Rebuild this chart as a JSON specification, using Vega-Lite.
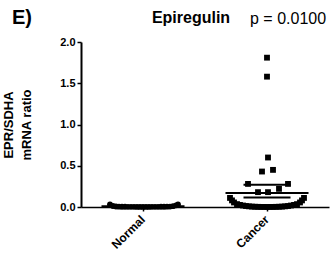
{
  "$schema": "https://vega.github.io/schema/vega-lite/v6.json",
  "width": 248,
  "height": 165,
  "autosize": "none",
  "padding": {"left": 81, "top": 42, "right": 2, "bottom": 49},
  "background": "white",
  "config": {
    "view": {"stroke": null},
    "font": "Liberation Sans",
    "axis": {"grid": false, "domainColor": "black", "tickColor": "black", "labelColor": "black", "titleColor": "black", "labelFont": "Liberation Sans", "titleFont": "Liberation Sans"}
  },
  "datasets": {
    "pts": [
      {"grp": "Normal", "off": -33, "v": 0.03},
      {"grp": "Normal", "off": -30, "v": 0.012},
      {"grp": "Normal", "off": -27, "v": 0.006},
      {"grp": "Normal", "off": -24, "v": 0.004},
      {"grp": "Normal", "off": -21, "v": 0.003},
      {"grp": "Normal", "off": -18, "v": 0.003},
      {"grp": "Normal", "off": -15, "v": 0.002},
      {"grp": "Normal", "off": -12, "v": 0.002},
      {"grp": "Normal", "off": -9, "v": 0.002},
      {"grp": "Normal", "off": -6, "v": 0.001},
      {"grp": "Normal", "off": -3, "v": 0.001},
      {"grp": "Normal", "off": 0, "v": 0.001},
      {"grp": "Normal", "off": 3, "v": 0.001},
      {"grp": "Normal", "off": 6, "v": 0.001},
      {"grp": "Normal", "off": 9, "v": 0.002},
      {"grp": "Normal", "off": 12, "v": 0.002},
      {"grp": "Normal", "off": 15, "v": 0.002},
      {"grp": "Normal", "off": 18, "v": 0.003},
      {"grp": "Normal", "off": 21, "v": 0.003},
      {"grp": "Normal", "off": 24, "v": 0.004},
      {"grp": "Normal", "off": 27, "v": 0.005},
      {"grp": "Normal", "off": 30, "v": 0.01},
      {"grp": "Normal", "off": 33, "v": 0.02},
      {"grp": "Normal", "off": 35, "v": 0.03},
      {"grp": "Cancer", "off": 0, "v": 1.81},
      {"grp": "Cancer", "off": 0, "v": 1.58},
      {"grp": "Cancer", "off": 1, "v": 0.60},
      {"grp": "Cancer", "off": -5, "v": 0.43},
      {"grp": "Cancer", "off": 6, "v": 0.45},
      {"grp": "Cancer", "off": -19, "v": 0.28},
      {"grp": "Cancer", "off": 21, "v": 0.28},
      {"grp": "Cancer", "off": 12, "v": 0.22},
      {"grp": "Cancer", "off": -9, "v": 0.18},
      {"grp": "Cancer", "off": 1, "v": 0.18},
      {"grp": "Cancer", "off": -37, "v": 0.11},
      {"grp": "Cancer", "off": -35, "v": 0.08},
      {"grp": "Cancer", "off": -33, "v": 0.055},
      {"grp": "Cancer", "off": -30, "v": 0.035},
      {"grp": "Cancer", "off": -27, "v": 0.025},
      {"grp": "Cancer", "off": -24, "v": 0.018},
      {"grp": "Cancer", "off": -21, "v": 0.012},
      {"grp": "Cancer", "off": -18, "v": 0.008},
      {"grp": "Cancer", "off": -15, "v": 0.005},
      {"grp": "Cancer", "off": -12, "v": 0.003},
      {"grp": "Cancer", "off": -9, "v": 0.002},
      {"grp": "Cancer", "off": -6, "v": 0.001},
      {"grp": "Cancer", "off": -3, "v": 0.001},
      {"grp": "Cancer", "off": 0, "v": 0.0},
      {"grp": "Cancer", "off": 3, "v": 0.001},
      {"grp": "Cancer", "off": 6, "v": 0.001},
      {"grp": "Cancer", "off": 9, "v": 0.002},
      {"grp": "Cancer", "off": 12, "v": 0.003},
      {"grp": "Cancer", "off": 15, "v": 0.005},
      {"grp": "Cancer", "off": 18, "v": 0.008},
      {"grp": "Cancer", "off": 21, "v": 0.012},
      {"grp": "Cancer", "off": 24, "v": 0.018},
      {"grp": "Cancer", "off": 27, "v": 0.025},
      {"grp": "Cancer", "off": 30, "v": 0.035},
      {"grp": "Cancer", "off": 33, "v": 0.055},
      {"grp": "Cancer", "off": 35, "v": 0.08},
      {"grp": "Cancer", "off": 37, "v": 0.11}
    ],
    "stats": [
      {"grp": "Normal", "stat": "mean", "v": 0.008},
      {"grp": "Normal", "stat": "sem", "v": 0.01},
      {"grp": "Normal", "stat": "sem", "v": 0.006},
      {"grp": "Cancer", "stat": "mean", "v": 0.17},
      {"grp": "Cancer", "stat": "sem", "v": 0.27},
      {"grp": "Cancer", "stat": "sem", "v": 0.115}
    ],
    "notes": [
      {"t": "E)", "grp": "Normal", "v": 2}
    ]
  },
  "encoding": {
    "x": {
      "field": "grp", "type": "nominal", "sort": ["Normal", "Cancer"],
      "scale": {"domain": ["Normal", "Cancer"], "paddingInner": 0, "paddingOuter": 0},
      "axis": {"title": null, "labelAngle": -45, "labelAlign": "right", "labelBaseline": "middle", "labelFontSize": 12, "labelFontWeight": "bold", "tickSize": 4, "tickWidth": 1.5, "domainWidth": 1.5, "labelPadding": 6}
    },
    "y": {
      "field": "v", "type": "quantitative",
      "scale": {"domain": [0, 2], "nice": false, "zero": true},
      "axis": {"values": [0, 0.5, 1, 1.5, 2], "format": ".1f", "title": ["EPR/SDHA", "mRNA ratio"], "titleFontSize": 13, "titleFontWeight": "bold", "titleLineHeight": 18, "titlePadding": 26, "labelFontSize": 11, "labelFontWeight": "bold", "tickSize": 4, "tickWidth": 1.5, "domainWidth": 2, "labelPadding": 2}
    }
  },
  "layer": [
    {
      "data": {"name": "stats"},
      "transform": [{"filter": "datum.stat == 'mean'"}],
      "mark": {"type": "tick", "size": 83, "thickness": 2, "color": "black", "opacity": 1}
    },
    {
      "data": {"name": "stats"},
      "transform": [{"filter": "datum.stat == 'sem'"}],
      "mark": {"type": "tick", "size": 47, "thickness": 2, "color": "black", "opacity": 1}
    },
    {
      "data": {"name": "pts"},
      "mark": {"type": "point", "filled": true, "opacity": 1, "color": "black", "size": 34},
      "encoding": {
        "xOffset": {"field": "off", "type": "quantitative", "scale": {"domain": [-62, 62]}},
        "shape": {"field": "grp", "type": "nominal", "scale": {"domain": ["Normal", "Cancer"], "range": ["circle", "square"]}, "legend": null}
      }
    },
    {
      "data": {"name": "notes"},
      "mark": {"type": "text", "fontSize": 20, "fontWeight": "bold", "color": "black", "align": "left", "baseline": "alphabetic", "dx": -131, "dy": -18},
      "encoding": {"text": {"field": "t"}}
    },
    {
      "data": {"name": "notes"},
      "mark": {"type": "text", "text": "Epiregulin", "fontSize": 16, "fontWeight": "bold", "color": "black", "align": "center", "baseline": "alphabetic", "dx": 48, "dy": -19}
    },
    {
      "data": {"name": "notes"},
      "mark": {"type": "text", "text": "p = 0.0100", "fontSize": 16, "color": "black", "align": "left", "baseline": "alphabetic", "dx": 107, "dy": -18}
    }
  ]
}
